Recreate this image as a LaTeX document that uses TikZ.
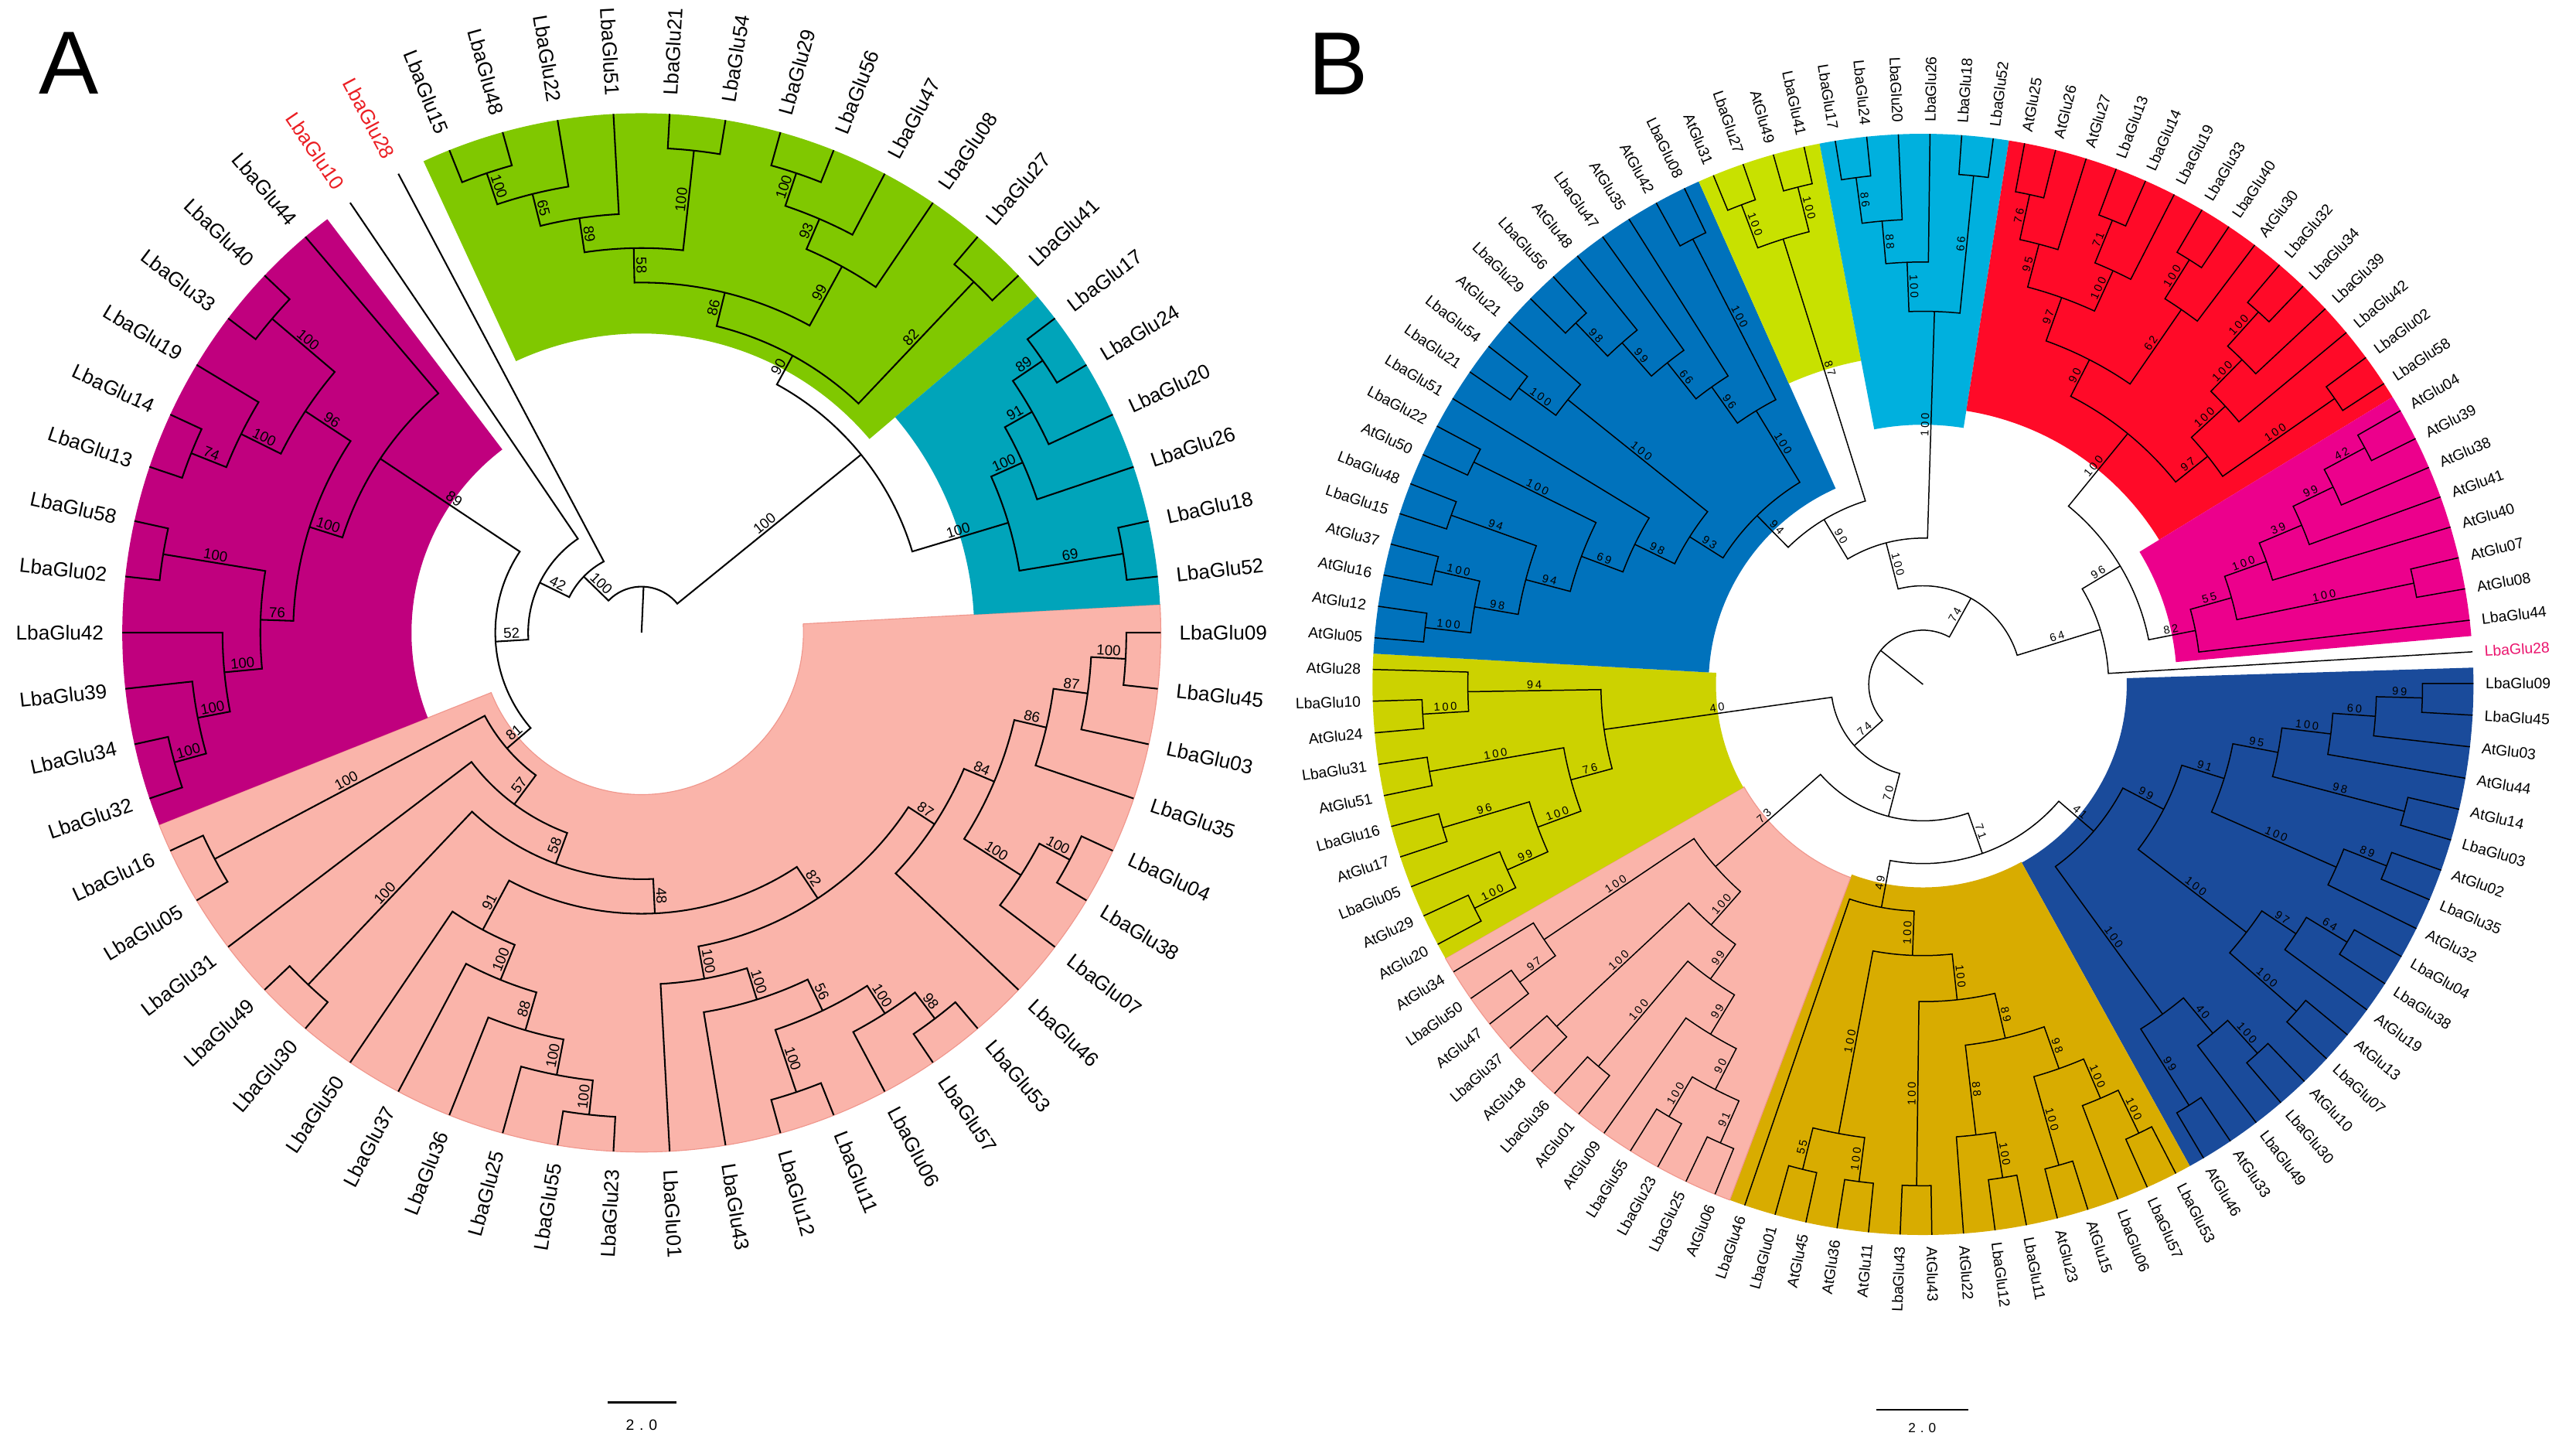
\documentclass[tikz,border=0pt]{standalone}
\usepackage{fontspec}
\setmainfont{Liberation Sans}
\newfontfamily\bsBfont[LetterSpace=20]{Liberation Sans}
\newfontfamily\scalebarfont[LetterSpace=35]{Liberation Sans}
\definecolor{pinkA}{RGB}{250,180,170}
\definecolor{pinkEdge}{RGB}{240,150,140}
\definecolor{magA}{RGB}{192,0,126}
\definecolor{greenA}{RGB}{128,200,0}
\definecolor{tealA}{RGB}{0,164,186}
\definecolor{steelB}{RGB}{0,114,188}
\definecolor{limeB}{RGB}{200,225,0}
\definecolor{cyanB}{RGB}{0,176,222}
\definecolor{redB}{RGB}{255,10,40}
\definecolor{magB}{RGB}{236,0,140}
\definecolor{navyB}{RGB}{26,75,155}
\definecolor{ochreB}{RGB}{216,172,0}
\definecolor{yellowB}{RGB}{204,210,0}
\definecolor{redtext}{RGB}{235,30,35}
\definecolor{pinktext}{RGB}{235,20,110}
\def\U{0.02}
% leaf: [colour]{name}{index}
\newcommand\lf[3][black]{%
  \pgfmathsetmacro\qa{\Th-(#3)*\St}%
  \expandafter\xdef\csname ang-\Tp-#2\endcsname{\qa}%
  \expandafter\xdef\csname rad-\Tp-#2\endcsname{\Rt}%
  \expandafter\gdef\csname lab-\Tp-#2\endcsname{}%
  \pgfmathsetmacro\qr{(\Rt+\Lg)*\U}%
  \pgfmathtruncatemacro\qf{cos(\qa)>=0}%
  \ifnum\qf=1
    \node[leaf,text=#1,anchor=west,rotate=\qa] (\Tp-#2) at (\qa:\qr) {#2};%
  \else
    \pgfmathsetmacro\qb{\qa+180}%
    \node[leaf,text=#1,anchor=east,rotate=\qb] (\Tp-#2) at (\qa:\qr) {#2};%
  \fi
}
% bootstrap label of child #1, parent radius #2
\newcommand\bsl[2]{%
  \edef\qt{\csname lab-\Tp-#1\endcsname}%
  \ifx\qt\empty\else
    \edef\qla{\csname ang-\Tp-#1\endcsname}%
    \edef\qlr{\csname rad-\Tp-#1\endcsname}%
    \pgfmathsetmacro\qlm{((#2)+\qlr)/2*\U}%
    \pgfmathtruncatemacro\qf{cos(\qla)>=0}%
    \ifnum\qf=1 \let\qrot\qla \else \pgfmathsetmacro\qrot{\qla+180}\fi
    \node[bs,rotate=\qrot,anchor=south] (bs-\Tp-#1) at (\qla:\qlm) {\qt};%
  \fi
}
% internal node: name, radius, child1, child2, label
\newcommand\nd[5]{%
  \edef\qca{\csname ang-\Tp-#3\endcsname}%
  \edef\qcb{\csname ang-\Tp-#4\endcsname}%
  \edef\qra{\csname rad-\Tp-#3\endcsname}%
  \edef\qrb{\csname rad-\Tp-#4\endcsname}%
  \pgfmathsetmacro\qm{(\qca+\qcb)/2}%
  \expandafter\xdef\csname ang-\Tp-#1\endcsname{\qm}%
  \expandafter\xdef\csname rad-\Tp-#1\endcsname{#2}%
  \expandafter\gdef\csname lab-\Tp-#1\endcsname{#5}%
  \pgfmathsetmacro\qr{(#2)*\U}%
  \pgfmathsetmacro\qA{\qra*\U}%
  \pgfmathsetmacro\qB{\qrb*\U}%
  \draw[branch] (\qca:\qA) -- (\qca:\qr) arc[start angle=\qca, end angle=\qcb, radius=\qr] -- (\qcb:\qB);%
  \bsl{#3}{#2}%
  \bsl{#4}{#2}%
}
% sector: k1, k2, inner radius, style
\newcommand\sect[4]{%
  \pgfmathsetmacro\qsa{\Th-(#1)*\St+\St/2}%
  \pgfmathsetmacro\qsb{\Th-(#2)*\St-\St/2}%
  \pgfmathsetmacro\qsi{(#3)*\U}%
  \pgfmathsetmacro\qso{\Rt*\U}%
  \fill[#4] (\qsa:\qsi) -- (\qsa:\qso) arc[start angle=\qsa, end angle=\qsb, radius=\qso] -- (\qsb:\qsi) arc[start angle=\qsb, end angle=\qsa, radius=\qsi] -- cycle;%
}
\newcommand\rootstub[1]{%
  \edef\qa{\csname ang-\Tp-root\endcsname}%
  \pgfmathsetmacro\qr{(#1)*\U}%
  \draw[branch] (0,0) -- (\qa:\qr);%
}
\begin{document}
\begin{tikzpicture}
\useasboundingbox (0,0) rectangle (31.36,17.56);
\fill[white] (0,0) rectangle (31.36,17.56);
% ================= TREE A =================
\begin{scope}[shift={(7.81,9.86)},
  branch/.style={line width=0.55pt},
  leaf/.style={inner sep=0pt,font=\fontsize{7}{8}\selectfont},
  bs/.style={inner sep=0.6pt,font=\fontsize{5}{6}\selectfont}]
\def\Tp{A}\def\Th{0}\def\St{6.2069}\def\Rt{316}\def\Lg{11}
\sect{0}{25}{98.5}{pinkA,draw=pinkEdge,line width=0.3pt}
\sect{26}{37}{140}{magA}
\sect{40}{51}{182}{greenA}
\sect{52}{57}{202.5}{tealA}
\lf{LbaGlu09}{0}\lf{LbaGlu45}{1}\lf{LbaGlu03}{2}\lf{LbaGlu35}{3}\lf{LbaGlu04}{4}
\lf{LbaGlu38}{5}\lf{LbaGlu07}{6}\lf{LbaGlu46}{7}\lf{LbaGlu53}{8}\lf{LbaGlu57}{9}
\lf{LbaGlu06}{10}\lf{LbaGlu11}{11}\lf{LbaGlu12}{12}\lf{LbaGlu43}{13}\lf{LbaGlu01}{14}
\lf{LbaGlu23}{15}\lf{LbaGlu55}{16}\lf{LbaGlu25}{17}\lf{LbaGlu36}{18}\lf{LbaGlu37}{19}
\lf{LbaGlu50}{20}\lf{LbaGlu30}{21}\lf{LbaGlu49}{22}\lf{LbaGlu31}{23}\lf{LbaGlu05}{24}
\lf{LbaGlu16}{25}\lf{LbaGlu32}{26}\lf{LbaGlu34}{27}\lf{LbaGlu39}{28}\lf{LbaGlu42}{29}
\lf{LbaGlu02}{30}\lf{LbaGlu58}{31}\lf{LbaGlu13}{32}\lf{LbaGlu14}{33}\lf{LbaGlu19}{34}
\lf{LbaGlu33}{35}\lf{LbaGlu40}{36}\lf{LbaGlu44}{37}\lf[redtext]{LbaGlu10}{38}\lf[redtext]{LbaGlu28}{39}
\lf{LbaGlu15}{40}\lf{LbaGlu48}{41}\lf{LbaGlu22}{42}\lf{LbaGlu51}{43}\lf{LbaGlu21}{44}
\lf{LbaGlu54}{45}\lf{LbaGlu29}{46}\lf{LbaGlu56}{47}\lf{LbaGlu47}{48}\lf{LbaGlu08}{49}
\lf{LbaGlu27}{50}\lf{LbaGlu41}{51}\lf{LbaGlu17}{52}\lf{LbaGlu24}{53}\lf{LbaGlu20}{54}
\lf{LbaGlu26}{55}\lf{LbaGlu18}{56}\lf{LbaGlu52}{57}
% pink
\nd{a1}{295}{LbaGlu09}{LbaGlu45}{100}
\nd{a2}{274}{a1}{LbaGlu03}{87}
\nd{a3}{253}{a2}{LbaGlu35}{86}
\nd{a4}{295}{LbaGlu04}{LbaGlu38}{100}
\nd{a5}{274}{a4}{LbaGlu07}{100}
\nd{a6}{233}{a3}{a5}{84}
\nd{a7}{213}{a6}{LbaGlu46}{87}
\nd{b1}{295}{LbaGlu53}{LbaGlu57}{98}
\nd{b2}{275}{b1}{LbaGlu06}{100}
\nd{b3}{295}{LbaGlu11}{LbaGlu12}{100}
\nd{b4}{255}{b2}{b3}{56}
\nd{b5}{234}{b4}{LbaGlu43}{100}
\nd{b6}{214}{b5}{LbaGlu01}{100}
\nd{a8}{194}{a7}{b6}{82}
\nd{c1}{295}{LbaGlu23}{LbaGlu55}{100}
\nd{c2}{274}{c1}{LbaGlu25}{100}
\nd{c3}{252}{c2}{LbaGlu36}{88}
\nd{c4}{228}{c3}{LbaGlu37}{100}
\nd{c5}{205}{c4}{LbaGlu50}{91}
\nd{n48}{171}{c5}{a8}{48}
\nd{d1}{295}{LbaGlu30}{LbaGlu49}{100}
\nd{n58}{150}{n48}{d1}{58}
\nd{n57}{130}{n58}{LbaGlu31}{57}
\nd{d2}{294}{LbaGlu05}{LbaGlu16}{100}
\nd{P}{108}{n57}{d2}{81}
% magenta
\nd{m1}{295}{LbaGlu32}{LbaGlu34}{100}
\nd{m2}{275}{m1}{LbaGlu39}{100}
\nd{m3}{255}{m2}{LbaGlu42}{100}
\nd{m4}{295}{LbaGlu02}{LbaGlu58}{100}
\nd{m5}{232}{m3}{m4}{76}
\nd{m6}{295}{LbaGlu13}{LbaGlu14}{74}
\nd{m6b}{272}{m6}{LbaGlu19}{100}
\nd{m6c}{295}{LbaGlu33}{LbaGlu40}{100}
\nd{m7a}{245}{m6b}{m6c}{96}
\nd{m7}{212}{m5}{m7a}{100}
\nd{M}{191}{m7}{LbaGlu44}{89}
% green
\nd{g1}{295}{LbaGlu15}{LbaGlu48}{100}
\nd{g2}{275}{g1}{LbaGlu22}{65}
\nd{g3}{255}{g2}{LbaGlu51}{89}
\nd{g3b}{295}{LbaGlu21}{LbaGlu54}{100}
\nd{g4}{234}{g3}{g3b}{58}
\nd{g5}{295}{LbaGlu29}{LbaGlu56}{100}
\nd{g6}{274}{g5}{LbaGlu47}{93}
\nd{g7}{254}{g6}{LbaGlu08}{99}
\nd{g8}{213}{g4}{g7}{86}
\nd{g9}{294}{LbaGlu27}{LbaGlu41}{82}
\nd{G}{192}{g8}{g9}{90}
% teal
\nd{t1}{295}{LbaGlu17}{LbaGlu24}{89}
\nd{t2}{273}{t1}{LbaGlu20}{91}
\nd{t3}{254}{t2}{LbaGlu26}{100}
\nd{t4}{297}{LbaGlu18}{LbaGlu52}{69}
\nd{T}{233}{t3}{t4}{100}
\nd{Y}{172}{G}{T}{100}
% backbone
\nd{N52}{89}{P}{M}{52}
\nd{N42}{69}{N52}{LbaGlu10}{42}
\nd{N100}{49}{N42}{LbaGlu28}{100}
\nd{root}{28}{N100}{Y}{}
\rootstub{28}
\end{scope}
% ================= TREE B =================
\begin{scope}[shift={(23.41,9.23)},
  branch/.style={line width=0.4pt},
  leaf/.style={inner sep=0pt,font=\fontsize{5.2}{6}\selectfont},
  bs/.style={inner sep=0.5pt,font=\bsBfont\fontsize{3.9}{4.5}\selectfont}]
\def\Tp{B}\def\Th{3.4}\def\St{3.3028}\def\Rt{335}\def\Lg{7}
\sect{1}{19}{124}{navyB}
\sect{20}{34}{123.5}{ochreB}
\sect{35}{46}{125.5}{pinkA,draw=pinkEdge,line width=0.3pt}
\sect{47}{56}{126}{yellowB}
\sect{57}{75}{130.5}{steelB}
\sect{76}{79}{200.5}{limeB}
\sect{80}{85}{158}{cyanB}
\sect{86}{100}{168.5}{redB}
\sect{101}{108}{154.5}{magB}
\lf{LbaGlu09}{1}\lf{LbaGlu45}{2}\lf{AtGlu03}{3}\lf{AtGlu44}{4}\lf{AtGlu14}{5}
\lf{LbaGlu03}{6}\lf{AtGlu02}{7}\lf{LbaGlu35}{8}\lf{AtGlu32}{9}\lf{LbaGlu04}{10}
\lf{LbaGlu38}{11}\lf{AtGlu19}{12}\lf{AtGlu13}{13}\lf{LbaGlu07}{14}\lf{AtGlu10}{15}
\lf{LbaGlu30}{16}\lf{LbaGlu49}{17}\lf{AtGlu33}{18}\lf{AtGlu46}{19}
\lf{LbaGlu53}{20}\lf{LbaGlu57}{21}\lf{LbaGlu06}{22}\lf{AtGlu15}{23}\lf{AtGlu23}{24}
\lf{LbaGlu11}{25}\lf{LbaGlu12}{26}\lf{AtGlu22}{27}\lf{AtGlu43}{28}\lf{LbaGlu43}{29}
\lf{AtGlu11}{30}\lf{AtGlu36}{31}\lf{AtGlu45}{32}\lf{LbaGlu01}{33}\lf{LbaGlu46}{34}
\lf{AtGlu06}{35}\lf{LbaGlu25}{36}\lf{LbaGlu23}{37}\lf{LbaGlu55}{38}\lf{AtGlu09}{39}
\lf{AtGlu01}{40}\lf{LbaGlu36}{41}\lf{AtGlu18}{42}\lf{LbaGlu37}{43}\lf{AtGlu47}{44}
\lf{LbaGlu50}{45}\lf{AtGlu34}{46}
\lf{AtGlu20}{47}\lf{AtGlu29}{48}\lf{LbaGlu05}{49}\lf{AtGlu17}{50}\lf{LbaGlu16}{51}
\lf{AtGlu51}{52}\lf{LbaGlu31}{53}\lf{AtGlu24}{54}\lf{LbaGlu10}{55}\lf{AtGlu28}{56}
\lf{AtGlu05}{57}\lf{AtGlu12}{58}\lf{AtGlu16}{59}\lf{AtGlu37}{60}\lf{LbaGlu15}{61}
\lf{LbaGlu48}{62}\lf{AtGlu50}{63}\lf{LbaGlu22}{64}\lf{LbaGlu51}{65}\lf{LbaGlu21}{66}
\lf{LbaGlu54}{67}\lf{AtGlu21}{68}\lf{LbaGlu29}{69}\lf{LbaGlu56}{70}\lf{AtGlu48}{71}
\lf{LbaGlu47}{72}\lf{AtGlu35}{73}\lf{AtGlu42}{74}\lf{LbaGlu08}{75}
\lf{AtGlu31}{76}\lf{LbaGlu27}{77}\lf{AtGlu49}{78}\lf{LbaGlu41}{79}
\lf{LbaGlu17}{80}\lf{LbaGlu24}{81}\lf{LbaGlu20}{82}\lf{LbaGlu26}{83}\lf{LbaGlu18}{84}
\lf{LbaGlu52}{85}
\lf{AtGlu25}{86}\lf{AtGlu26}{87}\lf{AtGlu27}{88}\lf{LbaGlu13}{89}\lf{LbaGlu14}{90}
\lf{LbaGlu19}{91}\lf{LbaGlu33}{92}\lf{LbaGlu40}{93}\lf{AtGlu30}{94}\lf{LbaGlu32}{95}
\lf{LbaGlu34}{96}\lf{LbaGlu39}{97}\lf{LbaGlu42}{98}\lf{LbaGlu02}{99}\lf{LbaGlu58}{100}
\lf{AtGlu04}{101}\lf{AtGlu39}{102}\lf{AtGlu38}{103}\lf{AtGlu41}{104}\lf{AtGlu40}{105}
\lf{AtGlu07}{106}\lf{AtGlu08}{107}\lf{LbaGlu44}{108}\lf[pinktext]{LbaGlu28}{109}
% navy
\nd{n99b}{304}{LbaGlu09}{LbaGlu45}{99}
\nd{n60}{276}{n99b}{AtGlu03}{60}
\nd{n100a}{250}{n60}{AtGlu44}{100}
\nd{w98}{303}{AtGlu14}{LbaGlu03}{98}
\nd{n95}{220}{n100a}{w98}{95}
\nd{x1}{303}{AtGlu02}{LbaGlu35}{89}
\nd{x2}{275}{x1}{AtGlu32}{100}
\nd{n91}{192}{n95}{x2}{91}
\nd{y1}{302}{LbaGlu04}{LbaGlu38}{64}
\nd{y2}{273}{y1}{AtGlu19}{97}
\nd{y2b}{302}{AtGlu13}{LbaGlu07}{100}
\nd{y3}{248}{y2}{y2b}{100}
\nd{n99}{165}{n91}{y3}{99}
\nd{z1}{303}{AtGlu10}{LbaGlu30}{100}
\nd{z2}{276}{z1}{LbaGlu49}{40}
\nd{z0}{303}{AtGlu33}{AtGlu46}{99}
\nd{z3}{248}{z2}{z0}{100}
\nd{NV}{137}{n99}{z3}{41}
% ochre
\nd{o1}{303}{LbaGlu53}{LbaGlu57}{100}
\nd{o2}{274}{o1}{LbaGlu06}{100}
\nd{o3}{304}{AtGlu15}{AtGlu23}{100}
\nd{o4}{248}{o2}{o3}{98}
\nd{o5}{304}{LbaGlu11}{LbaGlu12}{100}
\nd{o6}{276}{o5}{AtGlu22}{88}
\nd{o7}{221}{o4}{o6}{89}
\nd{o8}{305}{AtGlu43}{LbaGlu43}{100}
\nd{o9}{193}{o7}{o8}{100}
\nd{o10}{305}{AtGlu11}{AtGlu36}{100}
\nd{o11}{304}{AtGlu45}{LbaGlu01}{55}
\nd{o12}{278}{o10}{o11}{100}
\nd{o13}{165}{o9}{o12}{100}
\nd{OC}{138}{o13}{LbaGlu46}{49}
% salmon
\nd{s1}{305}{AtGlu06}{LbaGlu25}{91}
\nd{s2}{305}{LbaGlu23}{LbaGlu55}{100}
\nd{s3}{277}{s1}{s2}{90}
\nd{s4}{249}{s3}{AtGlu09}{99}
\nd{s5}{305}{AtGlu01}{LbaGlu36}{100}
\nd{s6}{221}{s4}{s5}{99}
\nd{s7}{305}{AtGlu18}{LbaGlu37}{100}
\nd{s8}{195}{s6}{s7}{100}
\nd{s9}{305}{AtGlu47}{LbaGlu50}{97}
\nd{s10}{278}{s9}{AtGlu34}{100}
\nd{SA}{168}{s8}{s10}{73}
% yellow
\nd{e1}{305}{AtGlu20}{AtGlu29}{100}
\nd{e2}{277}{e1}{LbaGlu05}{99}
\nd{e3}{305}{AtGlu17}{LbaGlu16}{96}
\nd{e4}{250}{e2}{e3}{100}
\nd{e5}{305}{AtGlu51}{LbaGlu31}{100}
\nd{e6}{222}{e4}{e5}{76}
\nd{e7}{305}{AtGlu24}{LbaGlu10}{100}
\nd{e8}{277}{e7}{AtGlu28}{94}
\nd{YE}{196}{e6}{e8}{40}
% steel blue
\nd{sb1}{305}{AtGlu05}{AtGlu12}{100}
\nd{sb2}{305}{AtGlu16}{AtGlu37}{100}
\nd{sb3}{277}{sb1}{sb2}{98}
\nd{sb4}{305}{LbaGlu15}{LbaGlu48}{94}
\nd{sb5}{250}{sb3}{sb4}{94}
\nd{sb6}{305}{AtGlu50}{LbaGlu22}{100}
\nd{sb7}{222}{sb5}{sb6}{69}
\nd{sb8}{195}{sb7}{LbaGlu51}{98}
\nd{sb9}{305}{LbaGlu21}{LbaGlu54}{100}
\nd{sb10}{277}{sb9}{AtGlu21}{100}
\nd{sb11}{168}{sb8}{sb10}{93}
\nd{sb12}{305}{LbaGlu29}{LbaGlu56}{98}
\nd{sb13}{277}{sb12}{AtGlu48}{99}
\nd{sb14}{250}{sb13}{LbaGlu47}{66}
\nd{sb15}{222}{sb14}{AtGlu35}{96}
\nd{sb16}{305}{AtGlu42}{LbaGlu08}{100}
\nd{sb17}{195}{sb15}{sb16}{100}
\nd{SB}{144}{sb11}{sb17}{94}
% lime
\nd{l1}{312}{AtGlu31}{LbaGlu27}{100}
\nd{l2}{312}{AtGlu49}{LbaGlu41}{100}
\nd{LI}{284}{l1}{l2}{87}
% cyan
\nd{cy1}{311}{LbaGlu17}{LbaGlu24}{86}
\nd{cy2}{283}{cy1}{LbaGlu20}{88}
\nd{cy3}{257}{cy2}{LbaGlu26}{100}
\nd{cy4}{311}{LbaGlu18}{LbaGlu52}{66}
\nd{CY}{227}{cy3}{cy4}{100}
% red
\nd{r1}{305}{AtGlu25}{AtGlu26}{76}
\nd{r2}{277}{r1}{AtGlu27}{95}
\nd{r3}{305}{LbaGlu13}{LbaGlu14}{71}
\nd{r4}{277}{r3}{LbaGlu19}{100}
\nd{r5}{250}{r2}{r4}{97}
\nd{r6}{305}{LbaGlu33}{LbaGlu40}{100}
\nd{r7}{277}{r6}{AtGlu30}{62}
\nd{r8}{222}{r5}{r7}{90}
\nd{r9}{305}{LbaGlu32}{LbaGlu34}{100}
\nd{r10}{277}{r9}{LbaGlu39}{100}
\nd{r11}{250}{r10}{LbaGlu42}{100}
\nd{r12}{305}{LbaGlu02}{LbaGlu58}{100}
\nd{r13}{222}{r11}{r12}{97}
\nd{RE}{197}{r8}{r13}{100}
% magenta
\nd{mg1}{305}{AtGlu04}{AtGlu39}{42}
\nd{mg2}{277}{mg1}{AtGlu38}{99}
\nd{mg3}{250}{mg2}{AtGlu41}{39}
\nd{mg4}{222}{mg3}{AtGlu40}{100}
\nd{mg5}{305}{AtGlu07}{AtGlu08}{100}
\nd{mg6}{195}{mg4}{mg5}{55}
\nd{MG}{169}{mg6}{LbaGlu44}{82}
% backbone
\nd{N71}{109}{NV}{OC}{71}
\nd{N70}{83}{N71}{SA}{70}
\nd{N74b}{56}{N70}{YE}{74}
\nd{N90}{117}{SB}{LI}{90}
\nd{N100b}{89}{N90}{CY}{100}
\nd{N96}{140}{RE}{MG}{96}
\nd{Na}{113}{N96}{LbaGlu28}{64}
\nd{N74t}{60}{N100b}{Na}{74}
\nd{root}{33}{N74b}{N74t}{}
\rootstub{33}
\end{scope}
% ================= titles and scale bars =================
\node[anchor=base west,inner sep=0pt,font=\fontsize{31}{32}\selectfont] (titleA) at (0.47,16.42) {A};
\node[anchor=base west,inner sep=0pt,font=\fontsize{31}{32}\selectfont] (titleB) at (15.92,16.41) {B};
\coordinate (sbA1) at (7.398,0.488);
\coordinate (sbA2) at (8.236,0.488);
\draw[line width=0.85pt] (sbA1) -- (sbA2);
\node[inner sep=0pt,font=\scalebarfont\fontsize{5.2}{6}\selectfont] (sbAlab) at (7.81,0.22) {2.0};
\coordinate (sbB1) at (22.84,0.40);
\coordinate (sbB2) at (23.96,0.40);
\draw[line width=0.6pt] (sbB1) -- (sbB2);
\node[inner sep=0pt,font=\scalebarfont\fontsize{4.6}{5.5}\selectfont] (sbBlab) at (23.40,0.18) {2.0};
\end{tikzpicture}
\end{document}
